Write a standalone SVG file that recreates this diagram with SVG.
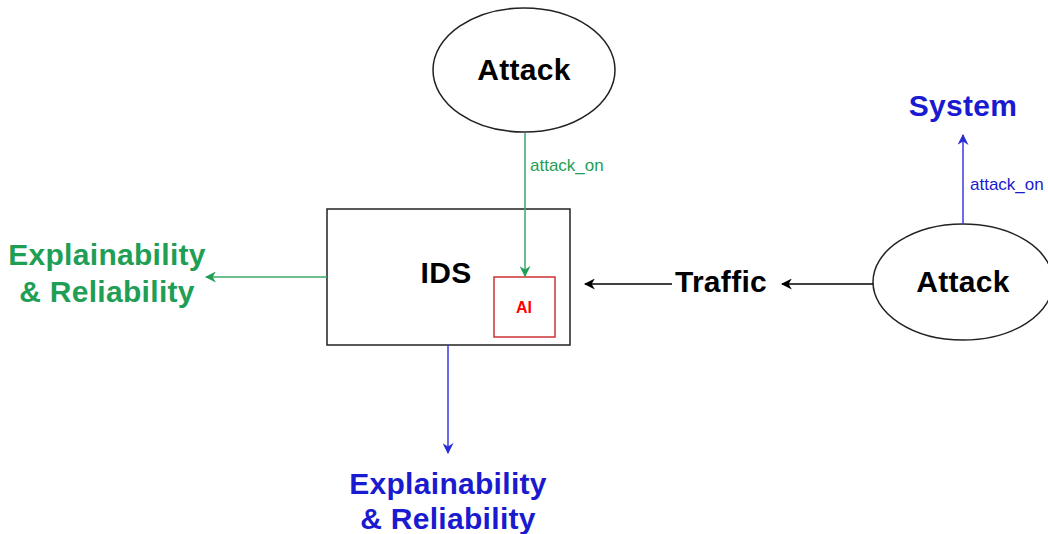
<svg xmlns="http://www.w3.org/2000/svg" width="1048" height="534" viewBox="0 0 1048 534">
<style>
.node{fill:#fff;stroke:#222;stroke-width:1.5}
.big{font-family:"Liberation Sans",Arial,sans-serif;font-weight:bold;font-size:30px;text-anchor:middle;letter-spacing:0.3px}
.lbl{font-family:"Liberation Sans",Arial,sans-serif;font-size:17px}
.g{fill:#1f9e55}.b{fill:#1a1ad0}.k{fill:#000}
</style>
<defs>
<marker id="ak" viewBox="0 0 10 10" refX="9" refY="5" markerWidth="11" markerHeight="11" orient="auto" markerUnits="userSpaceOnUse"><path d="M0,0 L10,5 L0,10 L3,5 Z" fill="#000"/></marker>
<marker id="ag" viewBox="0 0 10 10" refX="9" refY="5" markerWidth="11" markerHeight="11" orient="auto" markerUnits="userSpaceOnUse"><path d="M0,0 L10,5 L0,10 L3,5 Z" fill="#1f9e55"/></marker>
<marker id="ab" viewBox="0 0 10 10" refX="9" refY="5" markerWidth="11" markerHeight="11" orient="auto" markerUnits="userSpaceOnUse"><path d="M0,0 L10,5 L0,10 L3,5 Z" fill="#2a2ad8"/></marker>
</defs>
<g id="attack-top">
<ellipse class="node" cx="524" cy="70" rx="91" ry="62"/>
<text class="big k" x="524" y="80">Attack</text>
</g>
<g id="ids">
<rect class="node" x="327" y="209" width="243" height="136"/>
<text class="big k" x="446" y="283">IDS</text>
</g>
<g id="ai">
<rect x="494" y="277" width="61" height="60" fill="#fff" stroke="#cc3333" stroke-width="1.5"/>
<text x="524" y="313" font-family="Liberation Sans,Arial,sans-serif" font-weight="bold" font-size="16" fill="#ff0000" text-anchor="middle">AI</text>
</g>
<g id="xr-left">
<text class="big g" x="107" y="265">Explainability</text>
<text class="big g" x="107" y="302">&amp; Reliability</text>
</g>
<g id="xr-bottom">
<text class="big b" x="448" y="494">Explainability</text>
<text class="big b" x="448" y="529">&amp; Reliability</text>
</g>
<g id="traffic">
<text class="big k" x="721" y="292">Traffic</text>
</g>
<g id="attack-right">
<ellipse class="node" cx="963" cy="282" rx="90" ry="58"/>
<text class="big k" x="963" y="292">Attack</text>
</g>
<g id="system">
<text class="big b" x="963" y="116">System</text>
</g>
<g id="connectors" fill="none" stroke-width="1.5">
<line x1="525" y1="133" x2="525" y2="276" stroke="#3aaa6a" marker-end="url(#ag)"/>
<line x1="327" y1="277" x2="206" y2="277" stroke="#3aaa6a" marker-end="url(#ag)"/>
<line x1="448" y1="345" x2="448" y2="453" stroke="#3a3ae0" marker-end="url(#ab)"/>
<line x1="672" y1="284" x2="585" y2="284" stroke="#000" marker-end="url(#ak)"/>
<line x1="873" y1="284" x2="782" y2="284" stroke="#000" marker-end="url(#ak)"/>
<line x1="963" y1="224" x2="963" y2="135" stroke="#3a3ae0" marker-end="url(#ab)"/>
<text class="lbl g" x="530" y="171">attack_on</text>
<text class="lbl b" x="970" y="190">attack_on</text>
</g>
</svg>
